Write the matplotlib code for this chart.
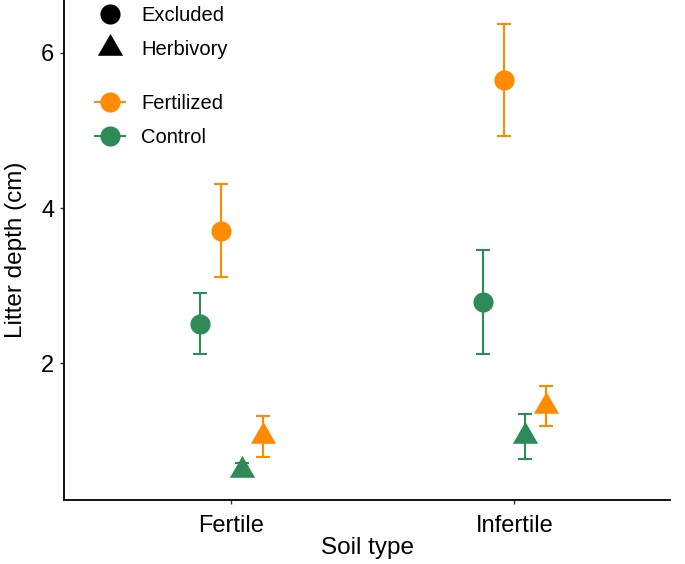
import matplotlib
matplotlib.use("Agg")
import matplotlib.pyplot as plt
from matplotlib.lines import Line2D

plt.rcParams['font.family'] = ['Liberation Sans', 'DejaVu Sans']

# dados
soil = ["Fertile", "Infertile"]
treatments = ["Excluded", "Herbivory"]
groups = ["Control", "Fertilized"]
colors = {"Fertilized": "#FF8C00", "Control": "#2E8B57"}

# triangulo equilatero (como o do ggplot)
tri = [(-1, -0.5774), (1, -0.5774), (0, 1.1547), (-1, -0.5774)]
markers = {"Excluded": "o", "Herbivory": tri}
sizes = {"Excluded": 14.5, "Herbivory": 21}

# media e erro (por solo): Excluded/Control, Excluded/Fertilized, Herbivory/Control, Herbivory/Fertilized
mean_excl_ctrl = [2.51, 2.79]
err_excl_ctrl = [0.39, 0.67]
mean_excl_fert = [3.71, 5.65]
err_excl_fert = [0.60, 0.72]
mean_herb_ctrl = [0.63, 1.06]
err_herb_ctrl = [0.08, 0.29]
mean_herb_fert = [1.06, 1.45]
err_herb_fert = [0.26, 0.26]

series = [
    ("Excluded", "Control", mean_excl_ctrl, err_excl_ctrl),
    ("Excluded", "Fertilized", mean_excl_fert, err_excl_fert),
    ("Herbivory", "Control", mean_herb_ctrl, err_herb_ctrl),
    ("Herbivory", "Fertilized", mean_herb_fert, err_herb_fert),
]
offsets = [-0.111, -0.037, 0.037, 0.111]

fig = plt.figure(figsize=(6.85, 5.64), dpi=100)
ax = fig.add_axes([0.0934, 0.1135, 0.885, 0.8865])

for (trt, grp, m, e), off in zip(series, offsets):
    xs = [i + 1 + off for i in range(len(soil))]
    ax.errorbar(xs, m, yerr=e, fmt="none", ecolor=colors[grp],
                elinewidth=1.5, capsize=5, capthick=1.5, zorder=2)
    ax.plot(xs, m, ls="none", marker=markers[trt], ms=sizes[trt],
            color=colors[grp], mew=0, zorder=3)

ax.set_xlim(0.41, 2.55)
ax.set_ylim(0.24, 6.68)
ax.set_xticks([1, 2])
ax.set_xticklabels(soil)
ax.set_yticks([2, 4, 6])
ax.tick_params(labelsize=17, length=3, width=1, color="#333333", pad=4)
ax.tick_params(axis="x", pad=8)
ax.set_xlabel("Soil type", fontsize=17.5, labelpad=0)
ax.set_ylabel("Litter depth (cm)", fontsize=17.5, labelpad=10)
for s in ["top", "right"]:
    ax.spines[s].set_visible(False)
for s in ["left", "bottom"]:
    ax.spines[s].set_linewidth(1.3)

shape_handles = [Line2D([], [], marker=markers[t], color="black", ls="none", ms=sizes[t], mew=0)
                 for t in treatments]
leg1 = ax.legend(shape_handles, treatments, loc="upper left", bbox_to_anchor=(0.021, 1.024),
                 frameon=False, fontsize=14.5, handlelength=1.5, labelspacing=0.75)
ax.add_artist(leg1)
col_handles = [Line2D([], [], marker="o", color=colors[g], ms=14.5, lw=1.5, mew=0)
               for g in ["Fertilized", "Control"]]
ax.legend(col_handles, ["Fertilized", "Control"], loc="upper left", bbox_to_anchor=(0.021, 0.849),
          frameon=False, fontsize=14.5, handlelength=1.5, labelspacing=0.75)

fig.savefig("out.png", dpi=100)
